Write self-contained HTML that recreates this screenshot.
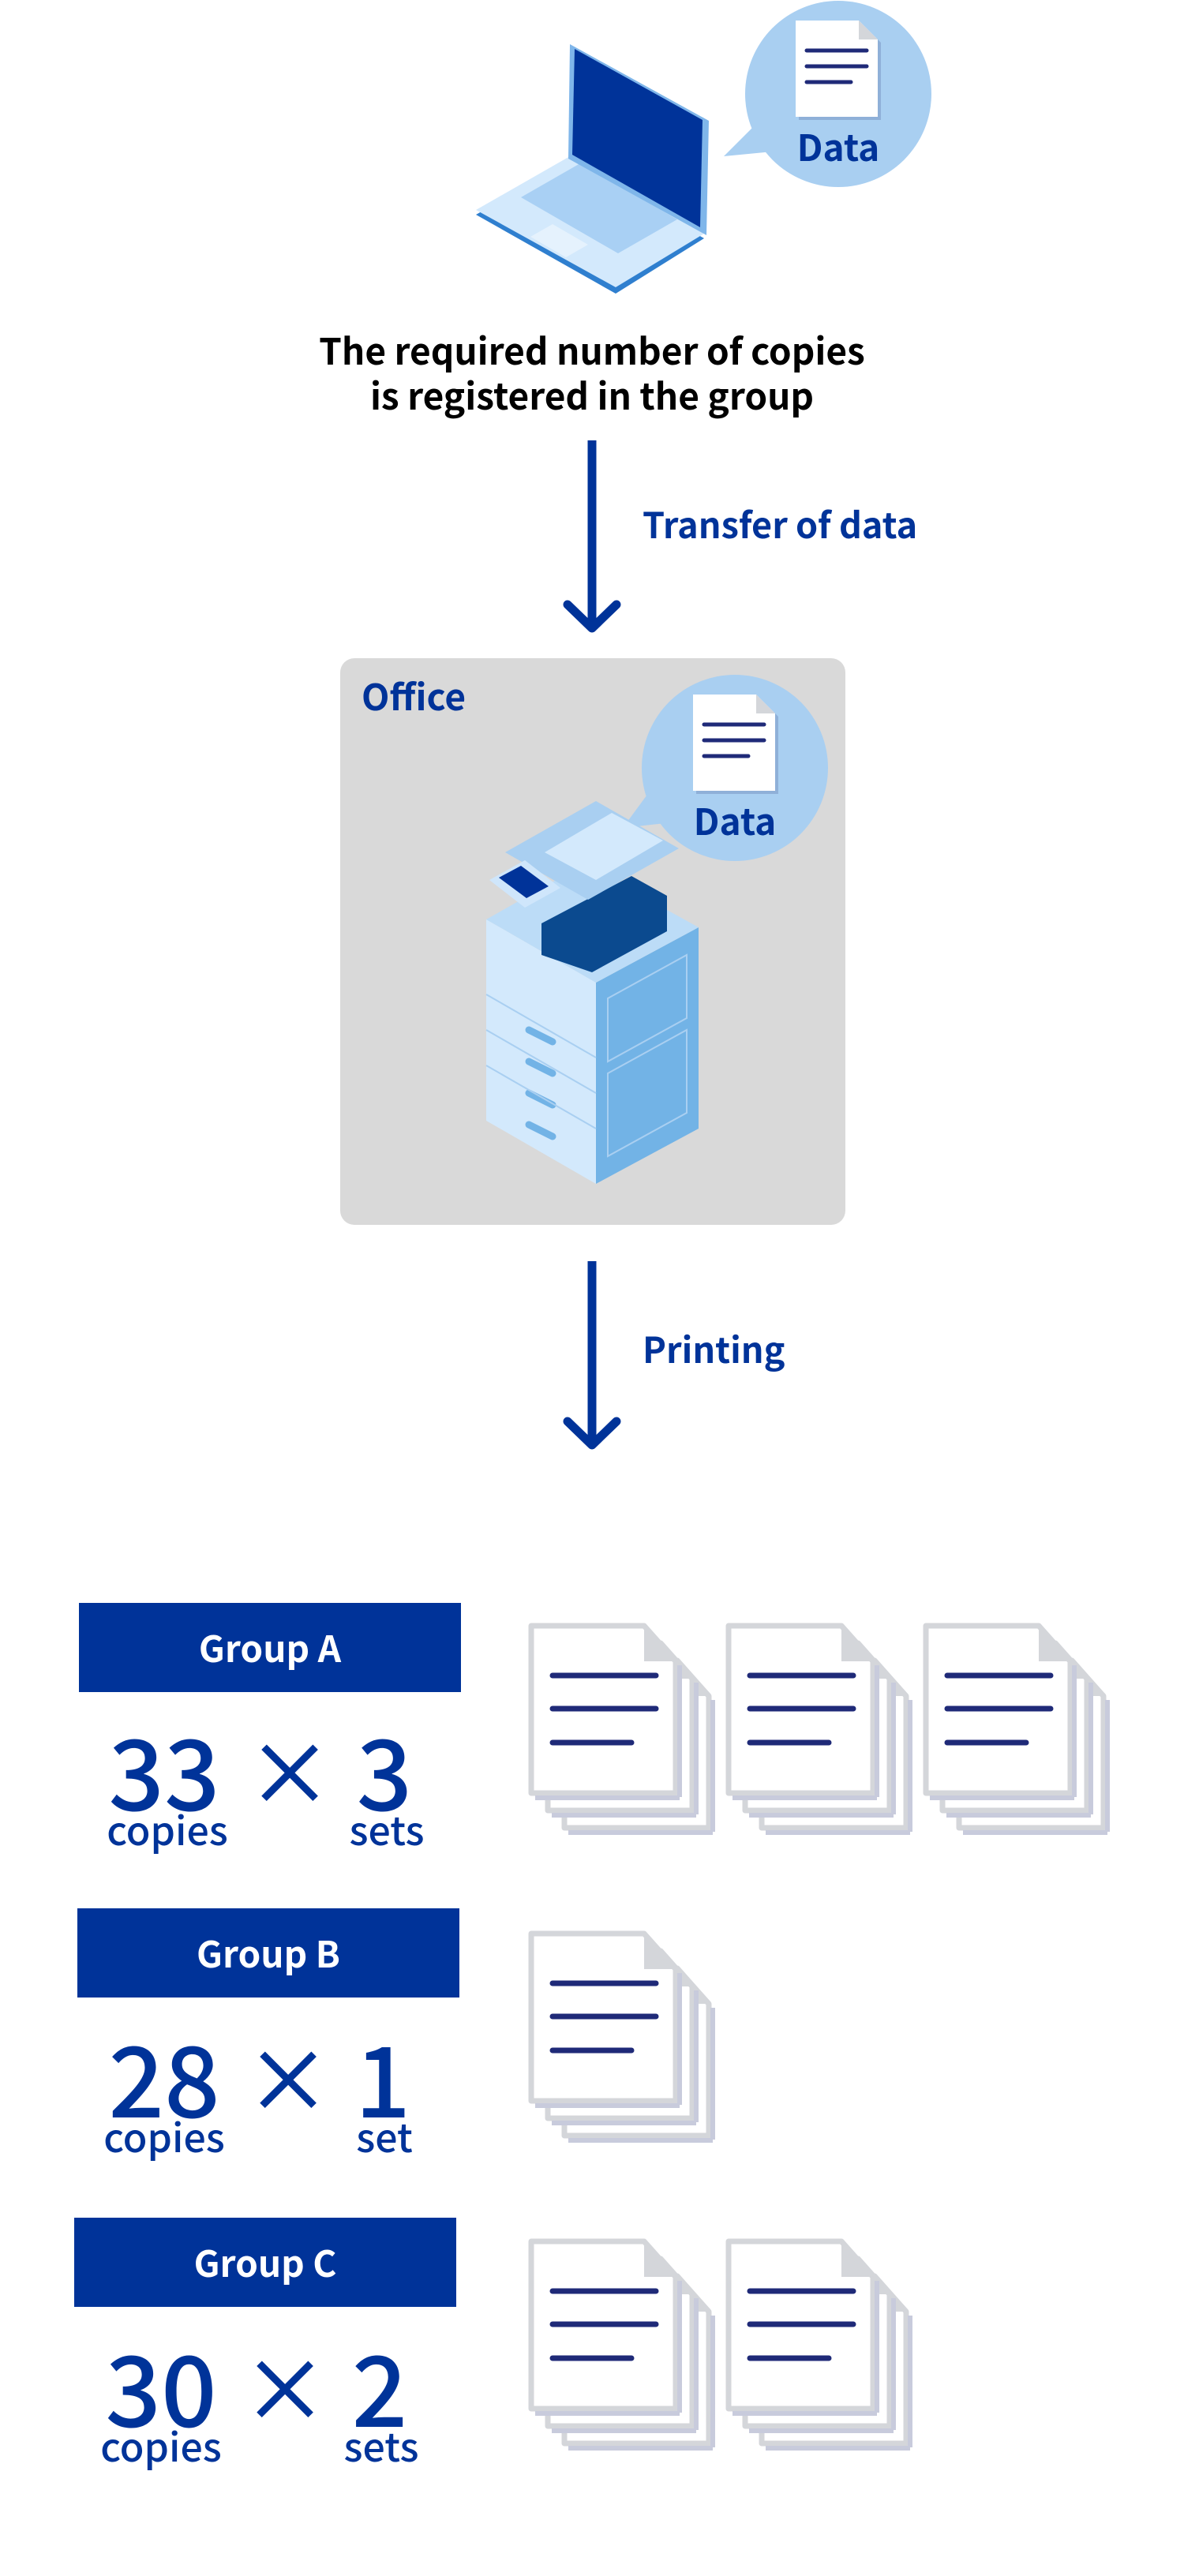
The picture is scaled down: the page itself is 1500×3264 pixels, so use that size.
<!DOCTYPE html>
<html><head><meta charset="utf-8"><style>
html,body{margin:0;padding:0;background:#fff}
svg{display:block}
text{font-family:"Noto Sans CJK JP","Liberation Sans",sans-serif;font-weight:700}
text.n{font-weight:500}
</style></head><body>
<svg width="1500" height="3264" viewBox="0 0 1500 3264" xmlns="http://www.w3.org/2000/svg">
<defs>
 <g id="doc">
  <path d="M4 4 H84 L108 28 V126 H4 Z" fill="#8fb0d8"/>
  <path d="M0 0 H80 L104 24 V122 H0 Z" fill="#fff"/>
  <path d="M80 0 V24 H104 Z" fill="#d4d6da"/>
  <line x1="14" y1="38" x2="90" y2="38" stroke="#1f2a78" stroke-width="5" stroke-linecap="round"/>
  <line x1="14" y1="58" x2="90" y2="58" stroke="#1f2a78" stroke-width="5" stroke-linecap="round"/>
  <line x1="14" y1="78" x2="70" y2="78" stroke="#1f2a78" stroke-width="5" stroke-linecap="round"/>
 </g>
 <g id="page">
  <path d="M0 0 H143 L183 45 V212 H0 Z" fill="#fff" stroke="#d4d6da" stroke-width="7" stroke-linejoin="round"/>
  <path d="M143 0 V45 H183 Z" fill="#d4d6da"/>
  <line x1="188" y1="50" x2="188" y2="217" stroke="#c8cbdc" stroke-width="6"/>
  <line x1="5" y1="218" x2="188" y2="218" stroke="#c8cbdc" stroke-width="6"/>
 </g>
 <g id="stack">
  <use href="#page" x="42" y="44"/>
  <use href="#page" x="21" y="22"/>
  <use href="#page" x="0" y="0"/>
  <line x1="27" y1="63" x2="158" y2="63" stroke="#1f2a78" stroke-width="7" stroke-linecap="round"/>
  <line x1="27" y1="105" x2="158" y2="105" stroke="#1f2a78" stroke-width="7" stroke-linecap="round"/>
  <line x1="27" y1="148" x2="127" y2="148" stroke="#1f2a78" stroke-width="7" stroke-linecap="round"/>
 </g>
</defs>

<polygon points="603,272 722,204 892,302 780,372" fill="#2f7fcf"/>
<polygon points="603,266 722,198 892,296 780,364" fill="#d3e9fc"/>
<polygon points="660,250 735,207 858,278 783,321" fill="#a9d0f4"/>
<polygon points="672,300 700,284 745,310 717,326" fill="#e5f2fd"/>
<polygon points="722,56 898,153 895,298 720,201" fill="#7fb6ea"/>
<polygon points="728,62 890,152 887,288 725,196" fill="#003399"/>

<circle cx="1062" cy="119" r="118" fill="#a9cff1"/>
<polygon points="955,160 917,198 1000,190" fill="#a9cff1"/>
<use href="#doc" x="1008" y="26"/>
<text x="1062" y="204" font-size="46" fill="#003399" text-anchor="middle">Data</text>

<text x="750" y="462" font-size="46" fill="#000" text-anchor="middle">The required number of copies</text>
<text x="750" y="519" font-size="46" fill="#000" text-anchor="middle">is registered in the group</text>

<line x1="750" y1="558" x2="750" y2="794" stroke="#003399" stroke-width="11"/>
<polyline points="719,766 750,796 781,766" fill="none" stroke="#003399" stroke-width="11" stroke-linecap="round" stroke-linejoin="round"/>
<text x="814" y="682" font-size="45" fill="#003399">Transfer of data</text>

<rect x="431" y="834" width="640" height="718" rx="18" fill="#d9d9d9"/>
<text x="458" y="900" font-size="46" fill="#003399">Office</text>
<circle cx="931" cy="973" r="118" fill="#a9cff1"/>
<polygon points="825,1000 789,1049 870,1040" fill="#a9cff1"/>
<use href="#doc" x="878" y="880"/>
<text x="931" y="1058" font-size="46" fill="#003399" text-anchor="middle">Data</text>

<polygon points="616,1165 755,1245 755,1500 616,1420" fill="#d3e9fc"/>
<polygon points="755,1245 885,1175 885,1430 755,1500" fill="#72b3e6"/>
<polygon points="616,1165 740,1095 885,1175 755,1245" fill="#bcdcf7"/>
<polygon points="686,1170 800,1110 845,1135 845,1180 750,1232 686,1210" fill="#0b4a8f"/>
<polygon points="640,1080 755,1015 860,1075 745,1140" fill="#a9cff1"/>
<polygon points="690,1080 775,1030 840,1065 755,1115" fill="#d3e9fc"/>
<polygon points="620,1115 665,1090 710,1125 665,1150" fill="#cfe6fb"/>
<polygon points="632,1112 660,1097 695,1123 667,1138" fill="#003399"/>
<g stroke="#72b3e6" stroke-width="9" stroke-linecap="round">
<line x1="670" y1="1305" x2="700" y2="1320"/><line x1="670" y1="1345" x2="700" y2="1360"/>
<line x1="670" y1="1385" x2="700" y2="1400"/><line x1="670" y1="1425" x2="700" y2="1440"/>
</g>
<g stroke="#a9cff1" stroke-width="2" fill="none">
<line x1="616" y1="1260" x2="755" y2="1340"/><line x1="616" y1="1305" x2="755" y2="1385"/>
<line x1="616" y1="1350" x2="755" y2="1430"/>
<polygon points="770,1265 870,1210 870,1290 770,1345"/><polygon points="770,1360 870,1305 870,1410 770,1465"/>
</g>

<line x1="750" y1="1598" x2="750" y2="1829" stroke="#003399" stroke-width="11"/>
<polyline points="719,1801 750,1831 781,1801" fill="none" stroke="#003399" stroke-width="11" stroke-linecap="round" stroke-linejoin="round"/>
<text x="814" y="1727" font-size="45" fill="#003399">Printing</text>

<rect x="100" y="2031" width="484" height="113" fill="#003399"/>
<text x="342" y="2106" font-size="46" fill="#fff" text-anchor="middle">Group A</text>
<text class="n" x="208" y="2294" font-size="124" fill="#003399" text-anchor="middle">33</text>
<text class="n" x="367" y="2288" font-size="110" fill="#003399" text-anchor="middle">×</text>
<text class="n" x="487" y="2294" font-size="124" fill="#003399" text-anchor="middle">3</text>
<text class="n" x="212" y="2338" font-size="50" fill="#003399" text-anchor="middle">copies</text>
<text class="n" x="490" y="2338" font-size="50" fill="#003399" text-anchor="middle">sets</text>
<use href="#stack" x="673" y="2060"/>
<use href="#stack" x="923" y="2060"/>
<use href="#stack" x="1173" y="2060"/>

<rect x="98" y="2418" width="484" height="113" fill="#003399"/>
<text x="340" y="2493" font-size="46" fill="#fff" text-anchor="middle">Group B</text>
<text class="n" x="208" y="2683" font-size="124" fill="#003399" text-anchor="middle">28</text>
<text class="n" x="365" y="2677" font-size="110" fill="#003399" text-anchor="middle">×</text>
<text class="n" x="485" y="2683" font-size="124" fill="#003399" text-anchor="middle">1</text>
<text class="n" x="208" y="2727" font-size="50" fill="#003399" text-anchor="middle">copies</text>
<text class="n" x="487" y="2727" font-size="50" fill="#003399" text-anchor="middle">set</text>
<use href="#stack" x="673" y="2450"/>

<rect x="94" y="2810" width="484" height="113" fill="#003399"/>
<text x="336" y="2885" font-size="46" fill="#fff" text-anchor="middle">Group C</text>
<text class="n" x="204" y="3075" font-size="124" fill="#003399" text-anchor="middle">30</text>
<text class="n" x="361" y="3069" font-size="110" fill="#003399" text-anchor="middle">×</text>
<text class="n" x="481" y="3075" font-size="124" fill="#003399" text-anchor="middle">2</text>
<text class="n" x="204" y="3119" font-size="50" fill="#003399" text-anchor="middle">copies</text>
<text class="n" x="483" y="3119" font-size="50" fill="#003399" text-anchor="middle">sets</text>
<use href="#stack" x="673" y="2840"/>
<use href="#stack" x="923" y="2840"/>
</svg>
</body></html>
